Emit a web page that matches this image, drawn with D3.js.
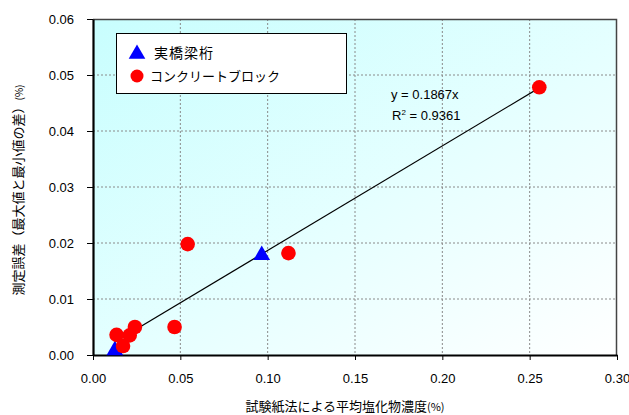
<!DOCTYPE html>
<html>
<head>
<meta charset="utf-8">
<script src="https://cdn.jsdelivr.net/npm/d3@7"></script>
<style>
  html, body { margin: 0; padding: 0; background: #ffffff; }
  svg { display: block; }
</style>
</head>
<body>
<svg id="chart" width="629" height="415"></svg>
<script>
// Measured chloride concentration (x, %) vs. measurement error (y, %)
const bridgeX = [0.0966, 0.0125];
const bridgeY = [0.0180, 0.0010];
const blockX = [0.2555, 0.0542, 0.1119, 0.0467, 0.0240, 0.0210, 0.0135, 0.0172];
const blockY = [0.0478, 0.0198, 0.0182, 0.0050, 0.0050, 0.0035, 0.0036, 0.0016];
const xTicks = [0, 0.05, 0.10, 0.15, 0.20, 0.25, 0.30];
const yTicks = [0, 0.01, 0.02, 0.03, 0.04, 0.05, 0.06];
const trendSlope = 0.1867;
const trendR2 = 0.9361;
const seriesNames = ["実橋梁桁", "コンクリートブロック"];

const W = 629, H = 415;
const m = { left: 93, top: 19, right: 12, bottom: 60 };
const pw = W - m.left - m.right;   // plot width
const ph = H - m.top - m.bottom;   // plot height

const jp = "'Noto Sans CJK JP', 'Noto Sans', sans-serif";
const num = "'Liberation Sans', Arial, sans-serif";

const svg = d3.select("#chart");
const defs = svg.append("defs");
const grad = defs.append("linearGradient")
  .attr("id", "bg").attr("x1", "0").attr("y1", "0").attr("x2", "1").attr("y2", "1");
grad.append("stop").attr("offset", "0%").attr("stop-color", "#c8fefe");
grad.append("stop").attr("offset", "55%").attr("stop-color", "#e6ffff");
grad.append("stop").attr("offset", "100%").attr("stop-color", "#ffffff");

const x = d3.scaleLinear().domain([0, 0.30]).range([0, pw]);
const y = d3.scaleLinear().domain([0, 0.06]).range([ph, 0]);

const g = svg.append("g").attr("transform", `translate(${m.left},${m.top})`);

// plot area background
g.append("rect").attr("width", pw).attr("height", ph).attr("fill", "url(#bg)");

// dotted gridlines
g.append("g").selectAll("line").data(xTicks.slice(1, -1)).join("line")
  .attr("x1", d => x(d)).attr("x2", d => x(d)).attr("y1", 0).attr("y2", ph)
  .attr("stroke", "#8a8a8a").attr("stroke-width", 1).attr("stroke-dasharray", "2,2");
g.append("g").selectAll("line").data(yTicks.slice(1, -1)).join("line")
  .attr("y1", d => y(d)).attr("y2", d => y(d)).attr("x1", 0).attr("x2", pw)
  .attr("stroke", "#8a8a8a").attr("stroke-width", 1).attr("stroke-dasharray", "2,2");

// top and right frame
g.append("path").attr("d", `M0,0.5H${pw - 0.5}V${ph}`)
  .attr("fill", "none").attr("stroke", "#444").attr("stroke-width", 1.5);

// axes
const xAxis = d3.axisBottom(x).tickValues(xTicks).tickFormat(d3.format(".2f"))
  .tickSizeInner(5).tickSizeOuter(0).tickPadding(14);
const yAxis = d3.axisLeft(y).tickValues(yTicks).tickFormat(d3.format(".2f"))
  .tickSizeInner(6).tickSizeOuter(0).tickPadding(13);

const gx = g.append("g").attr("transform", `translate(0,${ph})`).call(xAxis);
const gy = g.append("g").call(yAxis);
[gx, gy].forEach(a => {
  a.select(".domain").attr("stroke", "#000").attr("stroke-width", 2.2);
  a.selectAll(".tick line").attr("stroke", "#000").attr("stroke-width", 1);
  a.selectAll(".tick text").attr("font-family", num).attr("font-size", 13).attr("fill", "#000");
});

// trend line y = slope * x over the data range
const allX = bridgeX.concat(blockX);
const x0 = d3.min(allX), x1 = d3.max(allX);
g.append("line")
  .attr("x1", x(x0)).attr("y1", y(trendSlope * x0))
  .attr("x2", x(x1)).attr("y2", y(trendSlope * x1))
  .attr("stroke", "#000").attr("stroke-width", 1.2);

// markers
const tri = d3.symbol().type(d3.symbolTriangle).size(120);
g.append("g").selectAll("path").data(d3.zip(bridgeX, bridgeY)).join("path")
  .attr("d", tri)
  .attr("transform", d => `translate(${x(d[0])},${y(d[1]) + 1})`)
  .attr("fill", "#0000ff");
g.append("g").selectAll("circle").data(d3.zip(blockX, blockY)).join("circle")
  .attr("cx", d => x(d[0])).attr("cy", d => y(d[1])).attr("r", 7.3)
  .attr("fill", "#ff0000");

// trend equation
const eq = g.append("text").attr("font-family", num).attr("font-size", 13).attr("fill", "#000");
eq.append("tspan").attr("x", 298).attr("y", 80).text(`y = ${trendSlope}x`);
const r2 = g.append("text").attr("font-family", num).attr("font-size", 13).attr("fill", "#000")
  .attr("x", 299).attr("y", 101);
r2.append("tspan").text("R");
r2.append("tspan").attr("font-size", 8).attr("dy", -5).text("2");
r2.append("tspan").attr("dy", 5).text(` = ${trendR2}`);

// legend
const lg = svg.append("g").attr("transform", "translate(116,33)");
lg.append("rect").attr("x", 0.5).attr("y", 0.5).attr("width", 230).attr("height", 60)
  .attr("fill", "#ffffff").attr("stroke", "#000").attr("stroke-width", 1);
lg.append("path").attr("d", tri).attr("transform", "translate(21,21)").attr("fill", "#0000ff");
lg.append("circle").attr("cx", 21).attr("cy", 43).attr("r", 6.5).attr("fill", "#ff0000");
lg.append("text").attr("x", 38).attr("y", 25).attr("font-family", jp).attr("font-size", 14)
  .attr("letter-spacing", 1).text(seriesNames[0]);
lg.append("text").attr("x", 34).attr("y", 48).attr("font-family", jp).attr("font-size", 13)
  .text(seriesNames[1]);

// axis titles
const xt = svg.append("text").attr("x", 345).attr("y", 411).attr("text-anchor", "middle")
  .attr("font-family", jp).attr("font-size", 13).attr("fill", "#000");
xt.append("tspan").text("試験紙法による平均塩化物濃度");
xt.append("tspan").attr("font-size", 11).text("(%)");

const yt = svg.append("text").attr("transform", "translate(23,190) rotate(-90)")
  .attr("text-anchor", "middle").attr("font-family", jp).attr("font-size", 13).attr("fill", "#000");
yt.append("tspan").text("測定誤差（最大値と最小値の差）");
yt.append("tspan").attr("font-size", 10).text("(%)");
</script>
</body>
</html>
